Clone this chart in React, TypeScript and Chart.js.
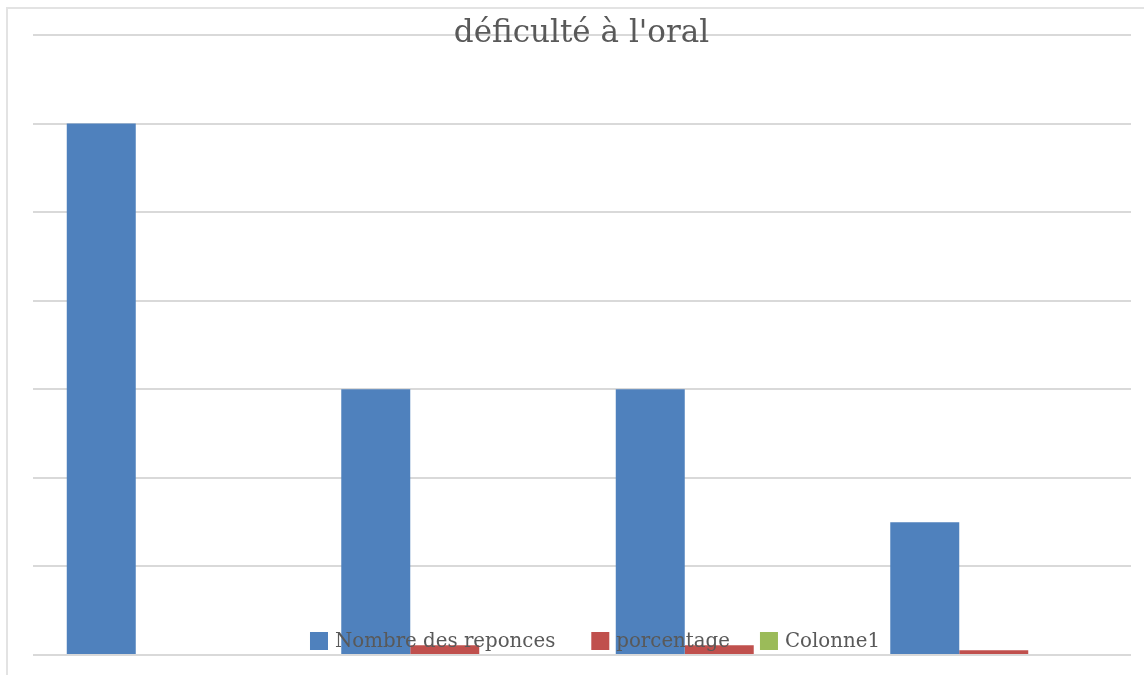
import React, { useEffect, useRef } from "react";
import { Chart, registerables } from "chart.js";

Chart.register(...registerables);

// Data
const categories = ["1", "2", "3", "4"];
const nombreDesReponces = [12, 6, 6, 3];
const porcentage: (number | null)[] = [null, 0.22, 0.22, 0.11];
const colonne1 = [0, 0, 0, 0];

const seriesLabels = ["Nombre des reponces", "porcentage", "Colonne1"];
const seriesColors = ["#4F81BD", "#C0504D", "#9BBB59"];
const titleText = "déficulté à l'oral";

const yMax = 14;
const yStep = 2;

const W = 1144;
const H = 675;
const textColor = "#595959";
const serif = "'DejaVu Serif', 'Liberation Serif', serif";

// Outer frame, title and an overlaid legend drawn on the canvas
const decorPlugin = {
  id: "decor",
  beforeDraw(chart: any) {
    const { ctx } = chart;
    ctx.save();
    ctx.fillStyle = "#ffffff";
    ctx.fillRect(0, 0, chart.width, chart.height);
    ctx.strokeStyle = "#e3e3e3";
    ctx.lineWidth = 2;
    ctx.beginPath();
    ctx.moveTo(7, chart.height);
    ctx.lineTo(7, 8);
    ctx.lineTo(chart.width, 8);
    ctx.stroke();
    ctx.restore();
  },
  afterDatasetsDraw(chart: any) {
    const { ctx, chartArea } = chart;
    ctx.save();
    // title
    ctx.font = `31px ${serif}`;
    ctx.fillStyle = textColor;
    ctx.textAlign = "center";
    ctx.textBaseline = "alphabetic";
    ctx.fillText(titleText, 581.5, 42);

    // legend
    ctx.font = `19.8px ${serif}`;
    const box = 18;
    const gap = 7;
    const itemGaps = [36, 30];
    const widths = chart.data.datasets.map(
      (d: any) => box + gap + ctx.measureText(d.label).width
    );
    const total =
      widths.reduce((a: number, b: number) => a + b, 0) +
      itemGaps.reduce((a, b) => a + b, 0);
    let x = 595 - total / 2;
    const yMid = chartArea.bottom - 14;
    ctx.textAlign = "left";
    ctx.textBaseline = "middle";
    chart.data.datasets.forEach((d: any, i: number) => {
      ctx.fillStyle = d.backgroundColor;
      ctx.fillRect(x, yMid - box / 2, box, box);
      ctx.fillStyle = textColor;
      ctx.fillText(d.label, x + box + gap, yMid + 1);
      x += widths[i] + (itemGaps[i] ?? 0);
    });
    ctx.restore();
  },
};

export default function App() {
  const canvasRef = useRef<HTMLCanvasElement | null>(null);

  useEffect(() => {
    if (!canvasRef.current) return;
    const chart = new Chart(canvasRef.current, {
      type: "bar",
      data: {
        labels: categories,
        datasets: [
          {
            label: seriesLabels[0],
            data: nombreDesReponces,
            backgroundColor: seriesColors[0],
            borderWidth: 0,
          },
          {
            label: seriesLabels[1],
            data: porcentage,
            backgroundColor: seriesColors[1],
            borderWidth: 0,
          },
          {
            label: seriesLabels[2],
            data: colonne1,
            backgroundColor: seriesColors[2],
            borderWidth: 0,
          },
        ],
      },
      options: {
        responsive: false,
        animation: false,
        datasets: {
          bar: { categoryPercentage: 0.754, barPercentage: 1 },
        },
        layout: { padding: { left: 33, right: 13, top: 35, bottom: 20 } },
        plugins: {
          legend: { display: false },
          title: { display: false },
          tooltip: { enabled: false },
        },
        scales: {
          x: {
            grid: { display: false, drawTicks: false },
            border: { display: false },
            ticks: { display: false },
          },
          y: {
            min: 0,
            max: yMax,
            ticks: { display: false, stepSize: yStep },
            grid: { color: "#d9d9d9", lineWidth: 2, drawTicks: false },
            border: { display: false },
          },
        },
      },
      plugins: [decorPlugin],
    });
    return () => chart.destroy();
  }, []);

  return (
    <div style={{ position: "absolute", left: 0, top: 0, width: W, height: H }}>
      <canvas ref={canvasRef} width={W} height={H} style={{ display: "block" }} />
    </div>
  );
}
